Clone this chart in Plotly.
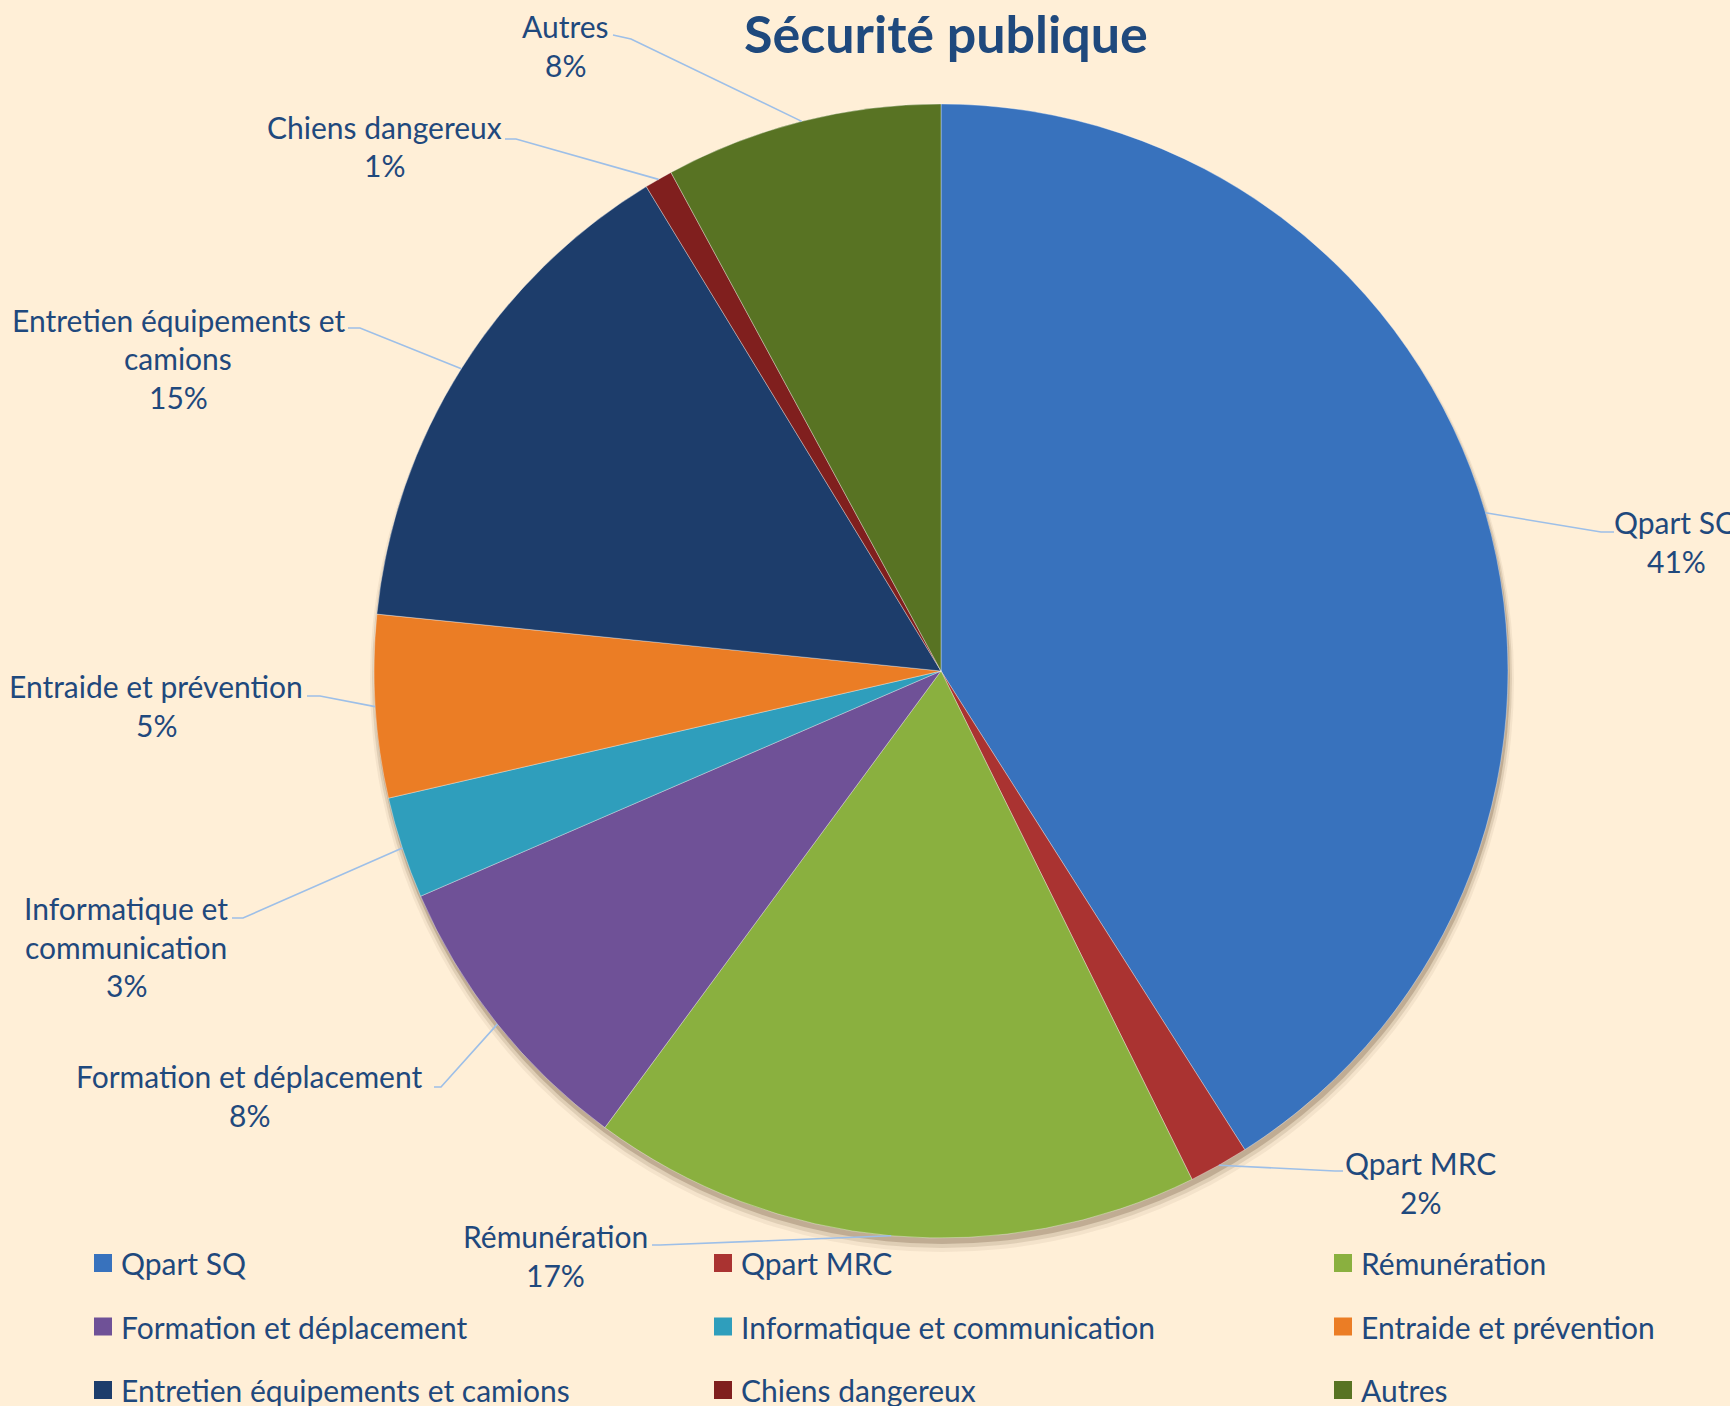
import math
import plotly.graph_objects as go

# Data (shares of the "Sécurité publique" budget, in %)
categories = [
    "Qpart SQ", "Qpart MRC", "Rémunération", "Formation et déplacement",
    "Informatique et communication", "Entraide et prévention",
    "Entretien équipements et camions", "Chiens dangereux", "Autres",
]
values = [41.0, 1.7, 17.4, 8.4, 2.9, 5.2, 14.7, 0.8, 7.9]
# label text as wrapped in the chart
label_lines = [
    ["Qpart SQ"], ["Qpart MRC"], ["Rémunération"], ["Formation et déplacement"],
    ["Informatique et", "communication"], ["Entraide et prévention"],
    ["Entretien équipements et", "camions"], ["Chiens dangereux"], ["Autres"],
]

colors = ["#3872BD", "#AA3331", "#8AB03F", "#6F5197", "#2F9EBC",
          "#EB7D25", "#1D3D6B", "#801F1E", "#587323"]

W, H = 1730, 1406
BG = "#FFEFD7"
TXT = "#1F497D"
FONT = "Lato"
FS = 30
LINE_H = 38.5

CX, CY, R = 941, 671, 567

# label layout (pixels): centre x / first line y, leader elbow and end
label_pos = [(1676, 522), (1420, 1163), (555, 1236), (249, 1076), (126, 908),
             (156, 686), (178, 320), (384, 127), (565, 26)]
leader_pts = [[(1601, 532), (1614, 532)], [(1335, 1171), (1343, 1171)],
              [(660, 1245), (652, 1245)], [(441, 1087), (434, 1087)],
              [(243, 918), (232, 918)], [(320, 696), (307, 696)],
              [(360, 328), (348, 328)], [(516, 139), (505, 139)],
              [(631, 39), (613, 35)]]


def px(x):
    return x / W


def py(y):
    return 1 - y / H


fig = go.Figure()

fig.add_trace(go.Pie(
    labels=categories,
    values=values,
    sort=False,
    direction="clockwise",
    rotation=0,
    marker=dict(colors=colors, line=dict(color="rgba(255,255,255,0.35)", width=1)),
    textinfo="none",
    hoverinfo="label+percent",
    showlegend=False,
    domain=dict(x=[px(CX - R), px(CX + R)], y=[py(CY + R), py(CY - R)]),
))

shapes = []
annotations = []

# soft shadow under the pie
for off, grow, op in [(9, 5, 0.08), (7, 3, 0.15), (5, 1, 0.28)]:
    shapes.append(dict(
        type="circle", xref="paper", yref="paper", layer="below",
        x0=px(CX - R - grow + 1), x1=px(CX + R + grow + 1),
        y0=py(CY + R + grow + off), y1=py(CY - R - grow + off),
        fillcolor=f"rgba(110,85,60,{op})", line=dict(width=0),
    ))

# data labels with leader lines
total = sum(values)
cum = 0
for i, v in enumerate(values):
    mid = (cum + v / 2) / total * 2 * math.pi
    cum += v
    ex = CX + R * math.sin(mid)
    ey = CY - R * math.cos(mid)
    (bx, by), (tx, ty) = leader_pts[i]
    shapes.append(dict(
        type="path", xref="paper", yref="paper",
        path=f"M {px(ex)},{py(ey)} L {px(bx)},{py(by)} L {px(tx)},{py(ty)}",
        line=dict(color="#9DBFE8", width=1.6),
    ))
    lx, ly = label_pos[i]
    lines = label_lines[i] + [f"{round(v / total * 100):.0f}%"]
    for k, t in enumerate(lines):
        annotations.append(dict(
            x=px(lx), y=py(ly + k * LINE_H), xref="paper", yref="paper",
            text=t, showarrow=False, xanchor="center", yanchor="middle",
            font=dict(family=FONT, size=FS, color=TXT),
        ))

# legend, 3 columns
for i, name in enumerate(categories):
    col, row = i % 3, i // 3
    x0 = 94 + col * 620
    yc = 1263 + row * 63.5
    shapes.append(dict(
        type="rect", xref="paper", yref="paper",
        x0=px(x0), x1=px(x0 + 18), y0=py(yc + 9), y1=py(yc - 9),
        fillcolor=colors[i], line=dict(width=0),
    ))
    annotations.append(dict(
        x=px(x0 + 25), y=py(yc), xref="paper", yref="paper",
        text=name, showarrow=False, xanchor="left", yanchor="middle",
        font=dict(family=FONT, size=FS, color=TXT),
    ))

# title
annotations.append(dict(
    x=px(946), y=py(33), xref="paper", yref="paper",
    text="<b>Sécurité publique</b>", showarrow=False,
    xanchor="center", yanchor="middle",
    font=dict(family=FONT, size=52, color=TXT),
))

fig.update_layout(
    width=W, height=H,
    margin=dict(l=0, r=0, t=0, b=0),
    paper_bgcolor=BG,
    plot_bgcolor=BG,
    shapes=shapes,
    annotations=annotations,
    showlegend=False,
)

# drop the page's default body margin so the chart fills the window
fig.write_html("out.html", config={"displayModeBar": False},
               post_script="document.body.style.margin='0';")
